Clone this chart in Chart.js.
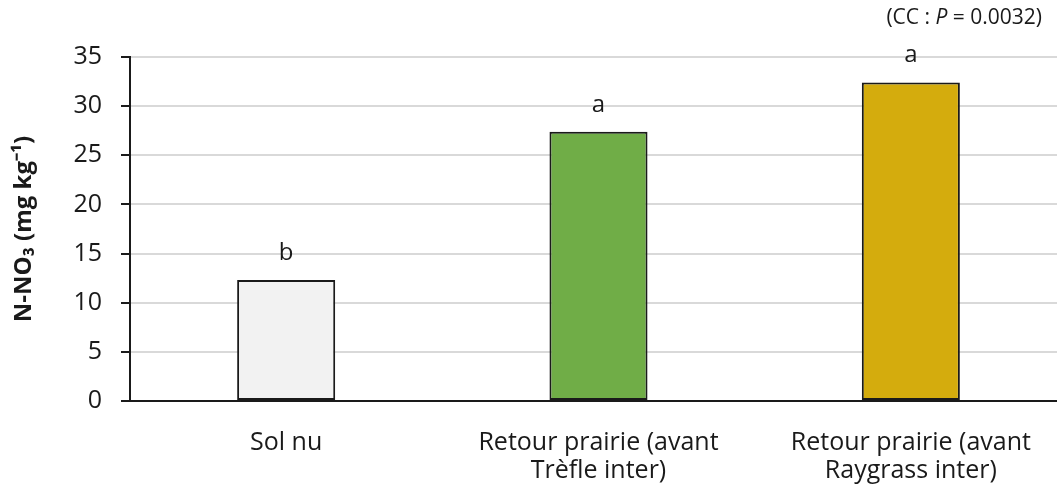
<!DOCTYPE html>
<html>
<head>
<meta charset="utf-8">
<script src="https://cdn.jsdelivr.net/npm/chart.js@4"></script>
<style>
    html, body { margin: 0; padding: 0; background: #fff; overflow: hidden; }
    #wrap { width: 1068px; height: 487px; }
</style>
</head>
<body>
<div id="wrap"><canvas id="chart" width="1068" height="487"></canvas></div>
<script>
const categories = [
    ['Sol nu'],
    ['Retour prairie (avant', 'Trèfle inter)'],
    ['Retour prairie (avant', 'Raygrass inter)']
];
const values  = [12.3, 27.4, 32.4];
const letters = ['b', 'a', 'a'];
const colors  = ['#f2f2f2', '#70ad47', '#d4ac0d'];
const yMin  = 0;
const yMax  = 35;
const yStep = 5;
const yTitle = 'N-NO₃ (mg kg⁻¹)';
const note   = ['(CC : ', 'P', ' = 0.0032)'];

const FONT = "'Open Sans', sans-serif";

const lettersPlugin = {
    id: 'letters',
    afterDatasetsDraw(chart) {
        const ctx  = chart.ctx;
        const meta = chart.getDatasetMeta(0);
        ctx.save();
        ctx.fillStyle    = '#1a1a1a';
        ctx.font         = `24px ${FONT}`;
        ctx.textAlign    = 'center';
        ctx.textBaseline = 'middle';
        meta.data.forEach((bar, i) => {
            ctx.fillText(letters[i], bar.x, bar.y - 27);
        });

        // note in the top right corner, P in italic
        ctx.textAlign = 'left';
        let parts = [
            {t: note[0], f: `21px ${FONT}`},
            {t: note[1], f: `italic 21px ${FONT}`},
            {t: note[2], f: `21px ${FONT}`}
        ];
        let total = 0;
        parts.forEach(p => { ctx.font = p.f; total += ctx.measureText(p.t).width; });
        let x = 1042 - total;
        parts.forEach(p => {
            ctx.font = p.f;
            ctx.fillText(p.t, x, 18);
            x += ctx.measureText(p.t).width;
        });
        ctx.restore();
    }
};

new Chart(document.getElementById('chart'), {
    type: 'bar',
    data: {
        labels  : categories,
        datasets: [
            {
                data              : values,
                backgroundColor   : colors,
                borderColor       : '#1a1a1a',
                borderWidth       : 2,
                borderSkipped     : false,
                barPercentage     : 1,
                categoryPercentage: 0.314
            }
        ]
    },
    options: {
        responsive: false,
        animation : false,
        layout    : { padding: { top: 57, right: 1, left: 0, bottom: 0 } },
        plugins   : {
            legend : { display: false },
            tooltip: { enabled: false }
        },
        scales: {
            x: {
                offset: true,
                grid  : { display: false },
                border: { display: true, color: '#1a1a1a', width: 2 },
                ticks : {
                    color      : '#1a1a1a',
                    font       : { family: FONT, size: 25, lineHeight: 1.15 },
                    padding    : 19,
                    maxRotation: 0,
                    autoSkip   : false
                },
                afterFit(scale) { scale.height = 86; }
            },
            y: {
                min : yMin,
                max : yMax,
                grid: {
                    color     : ctx => ctx.tick && ctx.tick.value === 0 ? 'rgba(0,0,0,0)' : '#d9d9d9',
                    lineWidth : 2,
                    tickColor : '#1a1a1a',
                    tickLength: 9,
                    drawTicks : true
                },
                border: { display: true, color: '#1a1a1a', width: 2 },
                ticks : {
                    stepSize: yStep,
                    color   : '#1a1a1a',
                    font    : { family: FONT, size: 25 },
                    padding : 19
                },
                title: {
                    display: true,
                    text   : yTitle,
                    color  : '#1a1a1a',
                    font   : { family: FONT, size: 24, weight: 'bold' },
                    padding: { top: 10, bottom: 0 }
                },
                afterFit(scale) { scale.width = 130; }
            }
        }
    },
    plugins: [lettersPlugin]
});
</script>
</body>
</html>
